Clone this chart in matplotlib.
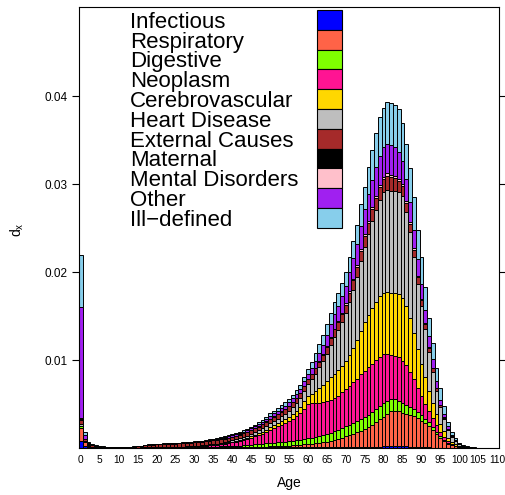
import matplotlib
matplotlib.use("Agg")
import matplotlib.pyplot as plt
from matplotlib.patches import Rectangle
import numpy as np

plt.rcParams['font.family'] = ['Liberation Sans', 'DejaVu Sans']
plt.rcParams['mathtext.default'] = 'regular'

# Distribution of deaths (d_x) by single year of age, split by cause.
# Values are in units of 1e-5.
ages = list(range(0, 111))
tick_ages = list(range(0, 111, 5))

infectious = [
    80, 25, 8, 4, 3, 2, 1, 1, 1, 1,
    1, 1, 1, 1, 1, 1, 1, 1, 1, 1,
    2, 2, 2, 2, 2, 3, 3, 3, 3, 3,
    4, 4, 4, 4, 4, 4, 4, 4, 4, 4,
    4, 4, 4, 5, 5, 5, 5, 5, 5, 6,
    6, 6, 6, 6, 6, 6, 7, 7, 7, 8,
    8, 8, 8, 8, 9, 9, 9, 9, 9, 10,
    10, 10, 11, 11, 12, 13, 14, 15, 16, 17,
    18, 19, 20, 20, 20, 20, 19, 17, 15, 12,
    10, 8, 6, 5, 4, 3, 2, 1, 1, 0,
    0, 0, 0, 0, 0, 0, 0, 0, 0, 0, 0]
respiratory = [
    150, 40, 12, 6, 4, 3, 2, 2, 1, 1,
    1, 1, 1, 1, 1, 1, 1, 1, 1, 1,
    1, 1, 1, 1, 1, 1, 1, 1, 2, 2,
    2, 2, 2, 2, 3, 3, 3, 3, 4, 4,
    4, 5, 5, 6, 6, 7, 8, 9, 10, 11,
    12, 13, 14, 16, 17, 19, 22, 25, 28, 33,
    38, 42, 47, 52, 58, 64, 70, 80, 92, 108,
    125, 138, 152, 168, 184, 200, 225, 250, 280, 310,
    340, 370, 400, 405, 400, 380, 370, 360, 345, 325,
    300, 275, 245, 205, 155, 110, 80, 50, 30, 18,
    10, 6, 3, 2, 1, 1, 0, 0, 0, 0, 0]
digestive = [
    15, 5, 2, 1, 1, 1, 1, 0, 0, 0,
    0, 0, 0, 0, 0, 0, 1, 1, 1, 1,
    1, 1, 1, 1, 1, 1, 2, 2, 2, 3,
    3, 4, 5, 6, 7, 8, 9, 11, 12, 14,
    16, 17, 19, 21, 24, 26, 28, 31, 34, 37,
    40, 43, 45, 47, 49, 52, 54, 57, 59, 62,
    65, 68, 72, 76, 80, 86, 95, 100, 105, 110,
    115, 118, 122, 126, 130, 135, 138, 141, 144, 147,
    150, 145, 135, 128, 120, 110, 100, 92, 82, 70,
    60, 50, 42, 34, 26, 20, 14, 9, 5, 3,
    2, 1, 1, 0, 0, 0, 0, 0, 0, 0, 0]
neoplasm = [
    2, 3, 3, 3, 3, 3, 3, 2, 2, 2,
    2, 2, 2, 2, 2, 2, 2, 2, 3, 3,
    3, 3, 3, 4, 4, 4, 5, 5, 6, 7,
    8, 9, 11, 13, 15, 18, 21, 25, 29, 34,
    40, 46, 53, 60, 69, 80, 91, 102, 115, 131,
    150, 165, 180, 197, 211, 230, 251, 275, 302, 346,
    390, 390, 385, 380, 375, 370, 370, 375, 390, 405,
    420, 440, 460, 485, 510, 530, 540, 550, 555, 560,
    560, 540, 500, 495, 490, 480, 450, 400, 340, 275,
    220, 170, 130, 100, 72, 50, 34, 20, 12, 7,
    4, 2, 1, 1, 0, 0, 0, 0, 0, 0, 0]
cerebrovascular = [
    1, 1, 1, 1, 0, 0, 0, 0, 0, 0,
    0, 0, 0, 0, 0, 0, 0, 0, 1, 1,
    1, 1, 1, 1, 1, 1, 1, 1, 2, 2,
    2, 2, 3, 3, 4, 4, 5, 6, 7, 8,
    9, 10, 11, 12, 14, 15, 17, 19, 22, 25,
    28, 31, 34, 38, 42, 47, 53, 60, 68, 80,
    92, 110, 135, 165, 195, 230, 265, 280, 295, 305,
    320, 355, 395, 440, 500, 560, 600, 635, 665, 690,
    700, 705, 705, 715, 720, 720, 670, 610, 530, 440,
    370, 300, 230, 170, 125, 90, 62, 38, 22, 13,
    7, 4, 2, 1, 1, 0, 0, 0, 0, 0, 0]
heart_disease = [
    22, 5, 3, 2, 1, 1, 1, 1, 1, 1,
    1, 1, 1, 1, 1, 1, 1, 1, 1, 2,
    2, 2, 2, 2, 2, 3, 3, 3, 3, 4,
    4, 5, 5, 6, 7, 8, 9, 10, 11, 13,
    15, 17, 19, 21, 24, 27, 30, 33, 37, 42,
    47, 51, 55, 60, 65, 71, 79, 89, 101, 117,
    132, 165, 200, 235, 270, 315, 360, 420, 450, 490,
    540, 600, 660, 720, 790, 850, 920, 990, 1050, 1100,
    1140, 1160, 1160, 1160, 1165, 1160, 1080, 980, 860, 740,
    650, 550, 440, 355, 270, 195, 140, 90, 55, 33,
    17, 9, 5, 3, 2, 1, 1, 0, 0, 0, 0]
external = [
    50, 25, 18, 12, 10, 8, 7, 6, 5, 5,
    5, 5, 6, 8, 10, 14, 19, 24, 27, 30,
    32, 34, 35, 36, 37, 37, 38, 39, 39, 39,
    40, 40, 40, 41, 41, 41, 41, 40, 40, 40,
    40, 40, 41, 41, 42, 42, 43, 44, 45, 46,
    47, 48, 49, 50, 51, 52, 53, 54, 55, 55,
    56, 58, 62, 66, 70, 75, 80, 84, 88, 94,
    100, 104, 108, 112, 116, 120, 126, 132, 138, 144,
    150, 158, 160, 145, 125, 110, 100, 92, 85, 78,
    70, 58, 46, 36, 28, 20, 14, 9, 5, 3,
    2, 1, 0, 0, 0, 0, 0, 0, 0, 0, 0]
maternal = [
    20, 2, 1, 0, 0, 0, 0, 0, 0, 0,
    0, 0, 0, 0, 0, 0, 0, 0, 1, 1,
    1, 1, 1, 1, 1, 1, 1, 1, 1, 1,
    1, 1, 1, 1, 1, 1, 1, 1, 0, 0,
    0, 0, 0, 0, 0, 0, 0, 0, 0, 0,
    0, 0, 0, 0, 0, 0, 0, 0, 0, 0,
    0, 0, 0, 0, 0, 0, 0, 0, 0, 0,
    0, 0, 0, 0, 0, 0, 0, 0, 0, 0,
    0, 0, 0, 0, 0, 0, 0, 0, 0, 0,
    0, 0, 0, 0, 0, 0, 0, 0, 0, 0,
    0, 0, 0, 0, 0, 0, 0, 0, 0, 0, 0]
mental = [
    0, 0, 0, 0, 0, 0, 0, 0, 0, 0,
    0, 0, 0, 0, 0, 0, 0, 1, 1, 1,
    1, 1, 1, 1, 1, 1, 1, 1, 1, 1,
    1, 1, 1, 2, 2, 2, 2, 2, 2, 2,
    2, 2, 2, 3, 3, 3, 3, 3, 3, 4,
    4, 4, 4, 4, 4, 4, 4, 5, 5, 5,
    4, 5, 5, 6, 7, 8, 9, 10, 11, 13,
    15, 16, 17, 18, 19, 20, 21, 22, 23, 24,
    25, 25, 25, 24, 22, 20, 19, 18, 17, 16,
    15, 13, 11, 9, 7, 5, 4, 3, 2, 1,
    1, 0, 0, 0, 0, 0, 0, 0, 0, 0, 0]
other = [
    1260, 45, 14, 7, 5, 3, 2, 2, 2, 1,
    1, 1, 1, 1, 2, 2, 2, 2, 2, 2,
    2, 3, 3, 3, 3, 3, 3, 4, 4, 5,
    5, 6, 6, 7, 8, 9, 10, 12, 13, 14,
    15, 16, 17, 17, 18, 19, 21, 23, 25, 28,
    32, 33, 35, 37, 38, 40, 42, 44, 47, 52,
    57, 65, 78, 92, 110, 130, 155, 165, 175, 188,
    200, 215, 230, 245, 265, 290, 305, 315, 325, 330,
    335, 340, 340, 330, 300, 260, 245, 230, 210, 190,
    170, 145, 120, 98, 75, 52, 38, 25, 15, 9,
    5, 3, 2, 1, 0, 0, 0, 0, 0, 0, 0]
ill_defined = [
    600, 29, 8, 4, 3, 1, 1, 1, 1, 1,
    1, 1, 1, 1, 1, 1, 1, 1, 1, 1,
    1, 1, 2, 2, 2, 2, 2, 3, 3, 3,
    4, 4, 5, 5, 6, 8, 9, 10, 12, 13,
    13, 14, 15, 15, 15, 16, 19, 21, 24, 25,
    29, 31, 33, 35, 37, 39, 40, 40, 41, 44,
    58, 70, 85, 100, 116, 120, 127, 137, 145, 148,
    155, 174, 195, 215, 244, 252, 301, 340, 384, 438,
    452, 468, 475, 478, 488, 440, 407, 381, 366, 334,
    305, 261, 210, 178, 148, 135, 92, 55, 33, 23,
    12, 6, 4, 2, 2, 2, 1, 1, 1, 0, 0]

causes = ['Infectious', 'Respiratory', 'Digestive', 'Neoplasm', 'Cerebrovascular',
          'Heart Disease', 'External Causes', 'Maternal', 'Mental Disorders',
          'Other', 'Ill\u2212defined']
series = [infectious, respiratory, digestive, neoplasm, cerebrovascular,
          heart_disease, external, maternal, mental, other, ill_defined]
colors = ['#0000FF', '#FF6347', '#7FFF00', '#FF1493', '#FFD700',
          '#BEBEBE', '#A52A2A', '#000000', '#FFC0CB', '#A020F0', '#87CEEB']
scale = 1e-5

fig = plt.figure(figsize=(5.05, 4.95), dpi=100)
ax = fig.add_axes([79 / 505, 47 / 495, 420 / 505, 441.5 / 495])

bottom = np.zeros(len(ages))
for vals, col in zip(series, colors):
    v = np.array(vals) * scale
    ax.bar(ages, v, bottom=bottom, width=1.0, color=col,
           edgecolor='black', linewidth=0.7)
    bottom += v

ax.set_xlim(-0.5, 110.5)
ax.set_ylim(0, 0.0502)

ax.set_xticks(tick_ages)
ax.set_xticklabels([str(a) for a in tick_ages], fontsize=7.3)
ax.tick_params(axis='x', length=0, pad=5)

ax.set_yticks([0.01, 0.02, 0.03, 0.04])
ax.set_yticklabels(['0.01', '0.02', '0.03', '0.04'], fontsize=8.5)
ax.tick_params(axis='y', length=5, width=0.8, pad=3, left=True, right=True)

for sp in ax.spines.values():
    sp.set_linewidth(0.8)

ax.text(0.5, -0.079, 'Age', transform=ax.transAxes, ha='center', va='center', fontsize=10)
ax.text(-0.148, 0.494, r'$d_x$', transform=ax.transAxes, ha='center', va='center',
        rotation=90, fontsize=10)

# legend: labels on the left, colour boxes in a column on the right
row_h = 19.8 / 441.5
top_y = (448 - 10) / 441.5
for i, (name, col) in enumerate(zip(causes, colors)):
    y0 = top_y - (i + 1) * row_h
    ax.add_patch(Rectangle((0.566, y0), 25 / 420, row_h, transform=ax.transAxes,
                           facecolor=col, edgecolor='black', linewidth=0.8, clip_on=False))
    ax.text(0.1214, y0 + row_h / 2, name, transform=ax.transAxes, ha='left',
            va='center_baseline', fontsize=16)

fig.savefig('out.png', dpi=100)
